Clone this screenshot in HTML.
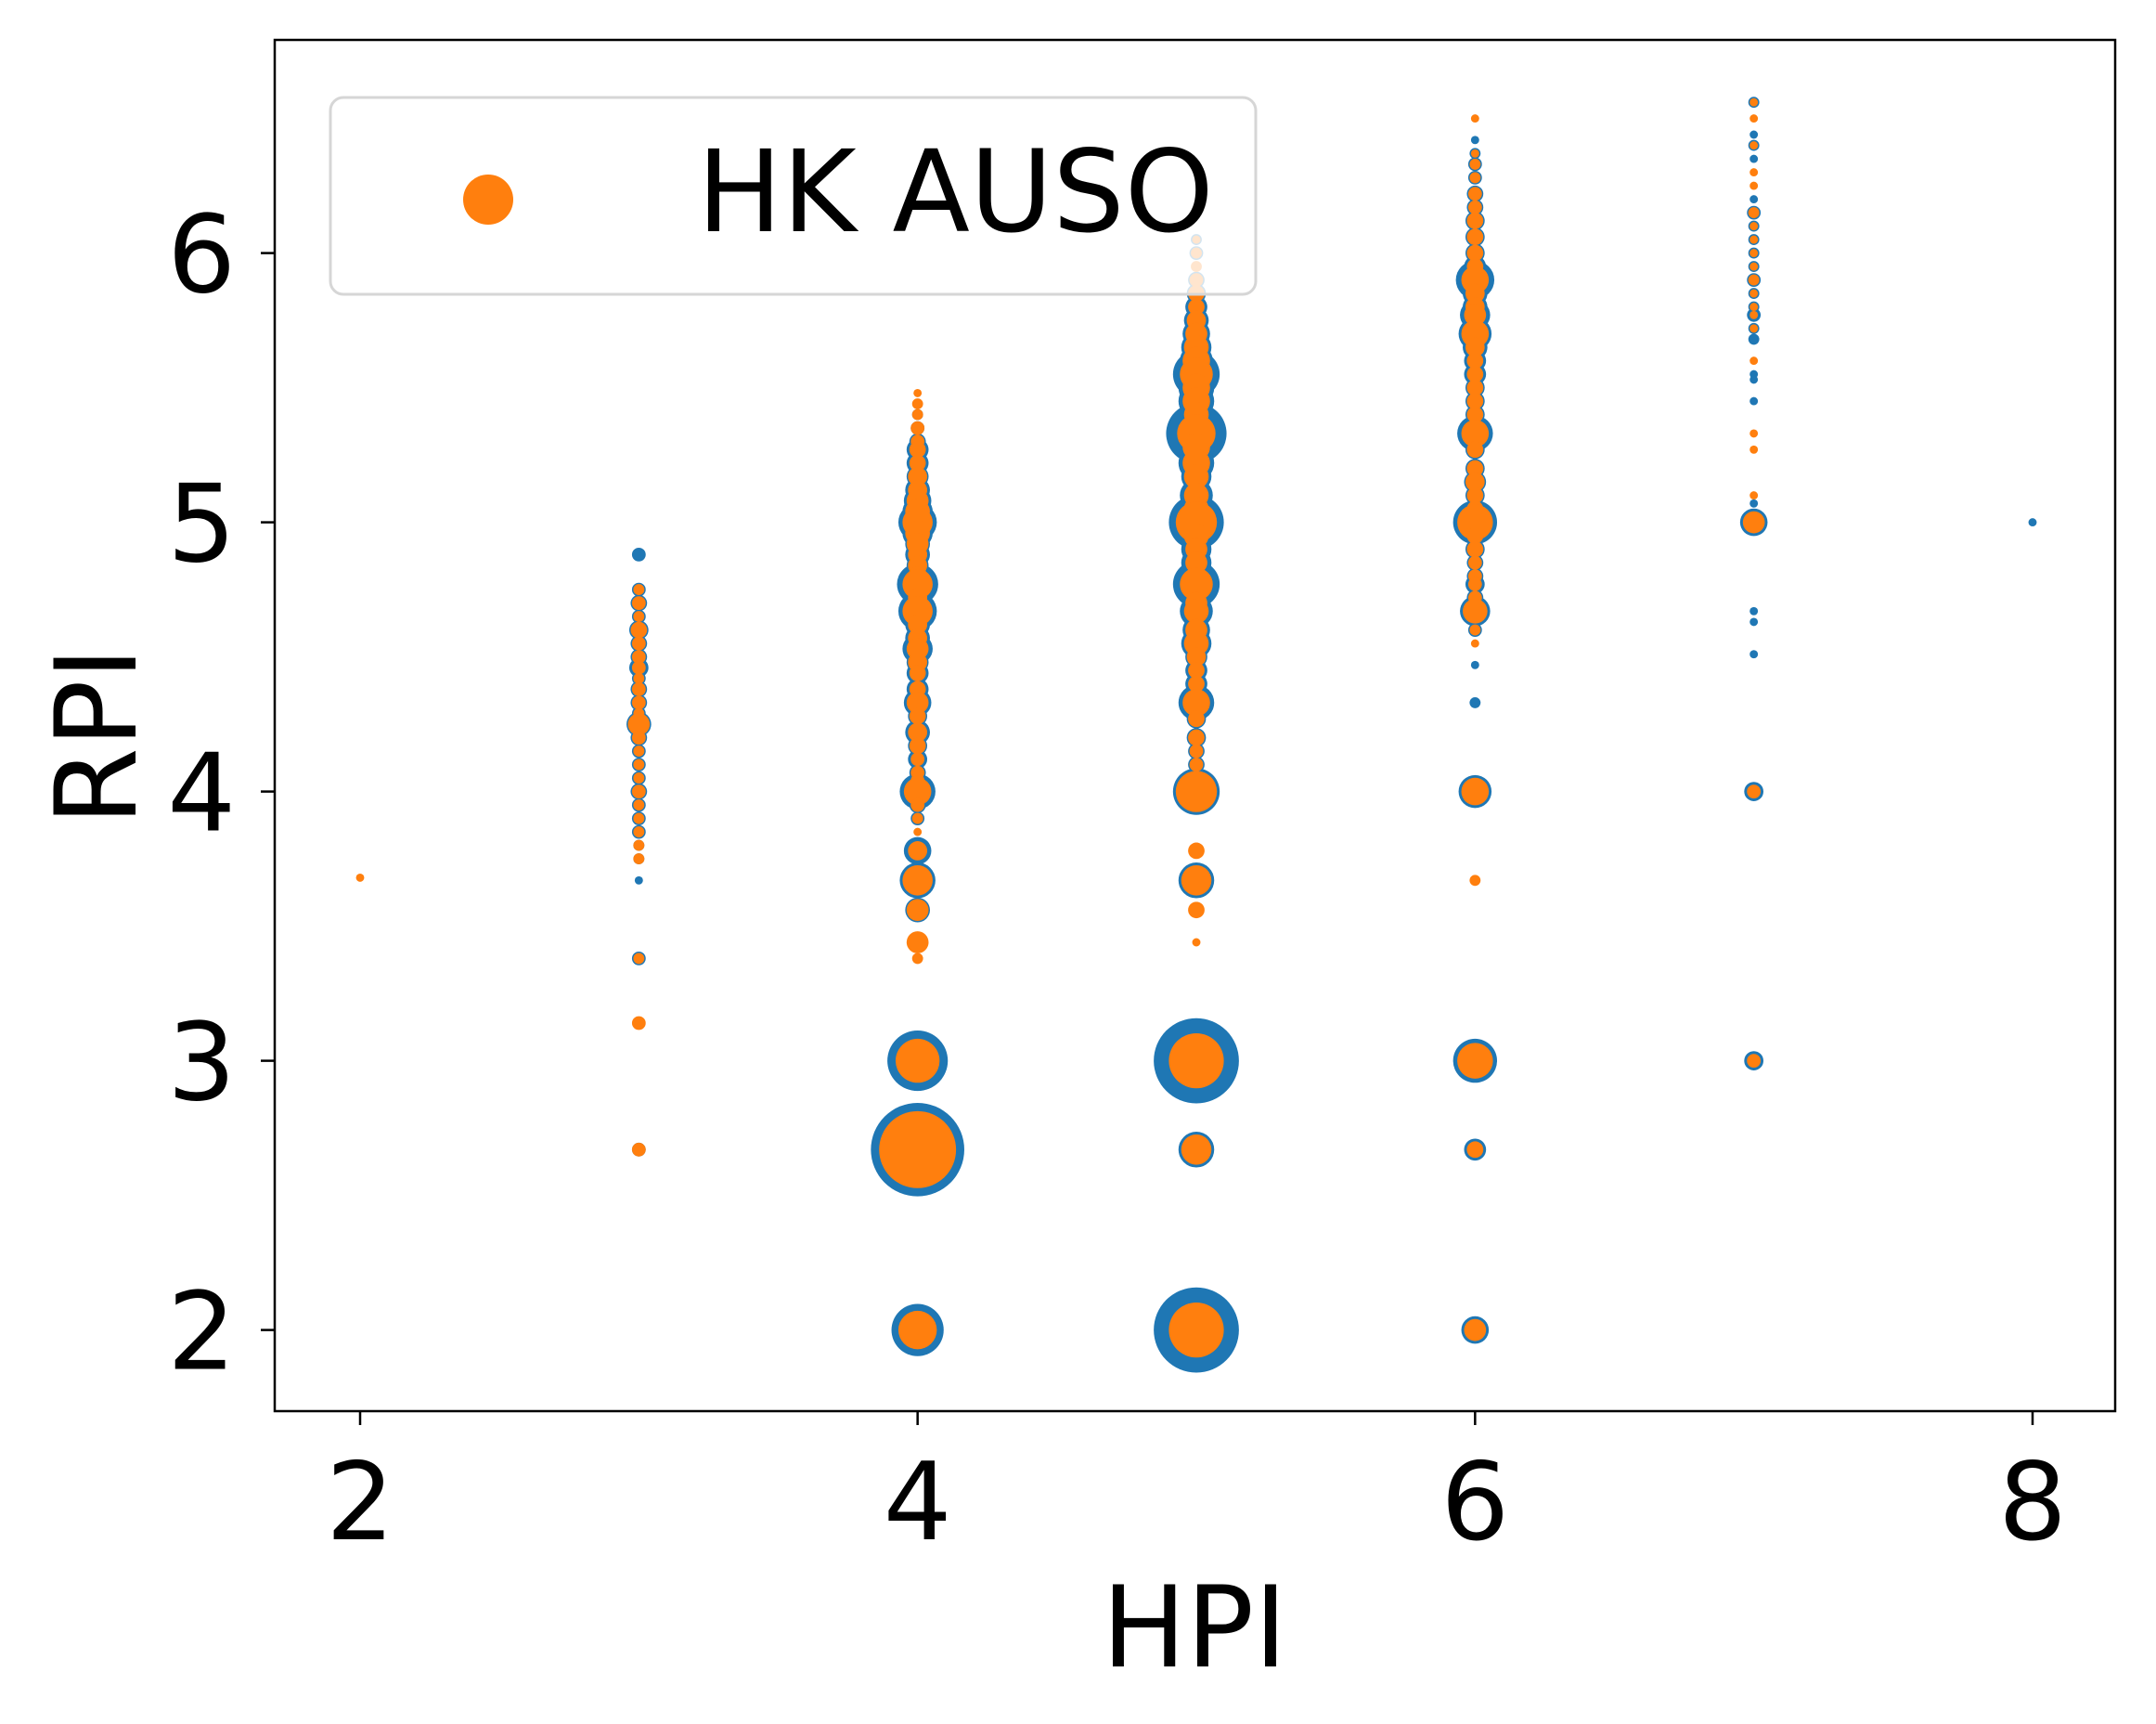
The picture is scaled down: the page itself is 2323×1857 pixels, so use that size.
<!DOCTYPE html>
<html><head><meta charset="utf-8"><style>
html,body{margin:0;padding:0;background:#fff;}
svg{display:block;font-family:"DejaVu Sans","Liberation Sans",sans-serif;}
</style></head><body>
<svg id="chart" width="2323" height="1857" viewBox="0 0 2323 1857">
<rect x="0" y="0" width="2323" height="1857" fill="#fff"/>
<g id="blue"></g>
<g id="orange"></g>
<rect x="296" y="43" width="1983" height="1477" fill="none" stroke="#000" stroke-width="2.5"/>
<g id="xticks"></g>
<g id="yticks"></g>
<text x="1287" y="1795" font-size="121" text-anchor="middle">HPI</text>
<text transform="translate(146,793) rotate(-90)" font-size="121" text-anchor="middle">RPI</text>
<g>
<rect x="356" y="105" width="997" height="212" rx="14" fill="#fff" fill-opacity="0.8" stroke="#d6d6d6" stroke-width="3"/>
<circle cx="526" cy="215" r="27" fill="#ff7f0e"/>
<text x="751" y="249" font-size="122">HK AUSO</text>
</g>
</svg>
<script>
const xTicks=[2,4,6,8];
const yTicks=[2,3,4,5,6];
// [HPI, RPI, blue marker radius, orange marker radius]
const points=[
[2,3.68,0,3],
[3,4.88,5,0],[3,4.75,5,4],[3,4.7,6,5],[3,4.65,5,4],[3,4.6,7,6],[3,4.55,6,5],[3,4.5,6,5],[3,4.46,7,5],[3,4.42,5,4],[3,4.38,6,5],[3,4.33,6,5],[3,4.29,5,4],[3,4.25,9,8],[3,4.2,6,5],[3,4.15,5,4],[3,4.1,5,4],[3,4.05,5,4],[3,4.0,6,5],[3,3.95,5,4],[3,3.9,5,4],[3,3.85,5,4],[3,3.8,4,4],[3,3.75,4,4],[3,3.67,3,0],[3,3.38,5,4],[3,3.14,0,5],[3,2.67,5,5],
[4,5.48,0,3],[4,5.44,0,4],[4,5.4,4,4],[4,5.35,5,5],[4,5.3,6,5],[4,5.27,8,6],[4,5.22,8,6],[4,5.17,8,7],[4,5.12,9,7],[4,5.08,10,8],[4,5.04,11,9],[4,5.0,14,11],[4,4.96,11,9],[4,4.92,9,8],[4,4.88,9,7],[4,4.84,8,7],[4,4.8,9,7],[4,4.77,15,11],[4,4.72,9,7],[4,4.67,14,11],[4,4.62,9,7],[4,4.57,9,7],[4,4.53,11,8],[4,4.48,8,7],[4,4.44,8,6],[4,4.38,8,6],[4,4.33,10,8],[4,4.28,7,6],[4,4.22,9,7],[4,4.17,7,6],[4,4.12,7,5],[4,4.07,6,5],[4,4.04,6,5],[4,4.0,13,10],[4,3.95,6,5],[4,3.9,5,4],[4,3.85,0,3],[4,3.78,10,7],[4,3.67,13,11],[4,3.56,9,8],[4,3.44,0,8],[4,3.38,0,4],[4,3.0,22,16],[4,2.67,34,28],[4,2.0,19,14],
[5,6.05,4,3],[5,6.0,5,4],[5,5.95,0,4],[5,5.9,6,5],[5,5.85,7,6],[5,5.8,8,6],[5,5.75,9,7],[5,5.7,10,8],[5,5.65,11,9],[5,5.6,12,10],[5,5.55,17,12],[5,5.5,13,10],[5,5.45,13,10],[5,5.4,12,9],[5,5.33,22,14],[5,5.28,13,10],[5,5.22,13,10],[5,5.17,11,9],[5,5.1,12,9],[5,5.05,12,9],[5,5.0,20,15],[5,4.95,11,9],[5,4.9,11,8],[5,4.85,11,8],[5,4.77,17,12],[5,4.7,10,8],[5,4.67,12,9],[5,4.6,10,8],[5,4.55,11,9],[5,4.5,8,7],[5,4.45,8,6],[5,4.4,8,6],[5,4.33,13,10],[5,4.27,7,6],[5,4.2,7,6],[5,4.15,6,5],[5,4.1,6,5],[5,4.0,17,15],[5,3.78,0,6],[5,3.67,13,11],[5,3.56,0,6],[5,3.44,0,3],[5,3.0,31,20],[5,2.67,13,11],[5,2.0,31,20],
[6,6.5,0,3],[6,6.42,3,0],[6,6.37,4,3],[6,6.33,5,4],[6,6.28,5,4],[6,6.22,6,5],[6,6.17,6,5],[6,6.12,7,6],[6,6.06,7,6],[6,6.0,7,6],[6,5.95,8,6],[6,5.9,14,10],[6,5.85,9,7],[6,5.8,9,7],[6,5.77,11,8],[6,5.7,12,10],[6,5.65,9,7],[6,5.6,8,6],[6,5.55,8,6],[6,5.5,7,6],[6,5.45,7,6],[6,5.4,7,6],[6,5.33,13,10],[6,5.27,7,6],[6,5.2,7,6],[6,5.15,8,7],[6,5.1,7,6],[6,5.05,7,6],[6,5.0,16,13],[6,4.95,7,6],[6,4.9,7,6],[6,4.85,6,5],[6,4.8,6,5],[6,4.77,7,5],[6,4.72,6,5],[6,4.67,11,9],[6,4.6,5,4],[6,4.55,0,3],[6,4.47,3,0],[6,4.33,4,0],[6,4.0,12,10],[6,3.67,0,4],[6,3.0,16,13],[6,2.67,8,6],[6,2.0,10,8],
[7,6.56,4,3],[7,6.5,0,3],[7,6.44,3,0],[7,6.4,4,3],[7,6.35,3,0],[7,6.3,0,3],[7,6.25,0,3],[7,6.2,3,0],[7,6.15,5,4],[7,6.1,4,3],[7,6.05,4,3],[7,6.0,4,3],[7,5.95,4,3],[7,5.9,5,4],[7,5.85,4,3],[7,5.8,4,3],[7,5.77,5,3],[7,5.72,4,3],[7,5.68,4,0],[7,5.6,0,3],[7,5.55,3,0],[7,5.53,3,0],[7,5.45,3,0],[7,5.33,0,3],[7,5.27,0,3],[7,5.1,0,3],[7,5.07,3,0],[7,5.0,10,8],[7,4.67,3,0],[7,4.63,3,0],[7,4.51,3,0],[7,4.0,7,5],[7,3.0,7,5],
[8,5.0,3,0]
];
const NS="http://www.w3.org/2000/svg";
const xs=v=>388+(v-2)*(2190-388)/6;
const ys=v=>1432.6-(v-2)*(1432.6-272.6)/4;
const rs=r=>r*1.48;
const gb=document.getElementById('blue'), go=document.getElementById('orange');
points.forEach(p=>{
  if(p[2]>0){const c=document.createElementNS(NS,'circle');
    c.setAttribute('cx',xs(p[0]));c.setAttribute('cy',ys(p[1]));c.setAttribute('r',rs(p[2]));c.setAttribute('fill','#1f77b4');
    
    
    gb.appendChild(c);}
  if(p[3]>0){const c=document.createElementNS(NS,'circle');
    c.setAttribute('cx',xs(p[0]));c.setAttribute('cy',ys(p[1]));c.setAttribute('r',rs(p[3]));c.setAttribute('fill','#ff7f0e');
    
    
    go.appendChild(c);}
});
const gx=document.getElementById('xticks'), gy=document.getElementById('yticks');
xTicks.forEach(t=>{
  const l=document.createElementNS(NS,'line');
  l.setAttribute('x1',xs(t));l.setAttribute('x2',xs(t));l.setAttribute('y1',1520);l.setAttribute('y2',1535);l.setAttribute('stroke','#000');l.setAttribute('stroke-width','2.5');
  
  
  gx.appendChild(l);
  const tx=document.createElementNS(NS,'text');
  tx.setAttribute('x',xs(t));tx.setAttribute('y',1658);tx.setAttribute('font-size','116');tx.setAttribute('text-anchor','middle');tx.textContent=t;
  
  
  gx.appendChild(tx);
});
yTicks.forEach(t=>{
  const l=document.createElementNS(NS,'line');
  l.setAttribute('x1',281);l.setAttribute('x2',296);l.setAttribute('y1',ys(t));l.setAttribute('y2',ys(t));l.setAttribute('stroke','#000');l.setAttribute('stroke-width','2.5');
  
  
  gy.appendChild(l);
  const tx=document.createElementNS(NS,'text');
  tx.setAttribute('x',254);tx.setAttribute('y',ys(t)+42);tx.setAttribute('font-size','116');tx.setAttribute('text-anchor','end');tx.textContent=t;
  
  
  gy.appendChild(tx);
});
</script>
</body></html>
